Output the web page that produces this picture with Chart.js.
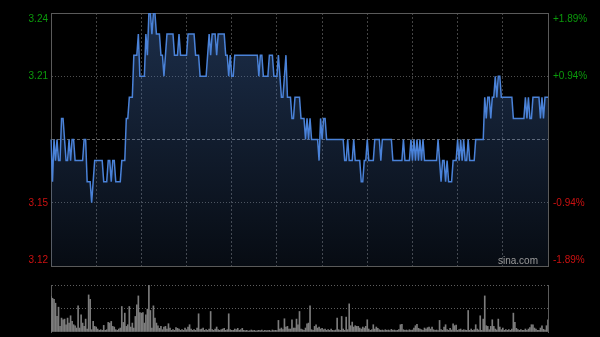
<!DOCTYPE html>
<html><head><meta charset="utf-8">
<script src="https://cdn.jsdelivr.net/npm/chart.js@4.4.1/dist/chart.umd.min.js"></script>
<style>
html,body{margin:0;padding:0;background:#000;}
#wrap{position:relative;width:600px;height:337px;background:#000;overflow:hidden;}
#c1{position:absolute;left:0;top:0;}
#c2{position:absolute;left:0;top:278px;}
#brand{position:absolute;left:498px;top:255px;font:10px "Liberation Sans",Arial,sans-serif;color:#9a9a9a;}
</style></head><body>
<div id="wrap"><canvas id="c1" width="600" height="278"></canvas><canvas id="c2" width="600" height="59"></canvas><div id="brand">sina.com</div></div>
<script>
// ---- data ----
const prevClose = 3.18;
const priceTicks = [3.12, 3.15, 3.18, 3.21, 3.24];
const volTicks = [0, 71, 142];

// minute labels 09:30-12:00, 13:01-16:00
const times = [];
for (let m = 0; m <= 150; m++) { const t = 9*60+30+m; times.push(String(Math.floor(t/60)).padStart(2,'0')+':'+String(t%60).padStart(2,'0')); }
for (let m = 1; m <= 180; m++) { const t = 13*60+m; times.push(String(Math.floor(t/60)).padStart(2,'0')+':'+String(t%60).padStart(2,'0')); }

const prices = [
3.18,3.16,3.18,3.17,3.18,3.17,3.17,3.19,3.19,3.18,
3.17,3.17,3.18,3.17,3.18,3.18,3.17,3.17,3.17,3.17,
3.17,3.17,3.18,3.18,3.16,3.16,3.16,3.15,3.16,3.17,
3.17,3.17,3.17,3.17,3.17,3.16,3.16,3.16,3.17,3.17,
3.16,3.17,3.17,3.16,3.16,3.16,3.16,3.17,3.17,3.17,
3.19,3.19,3.20,3.20,3.20,3.22,3.22,3.22,3.23,3.21,
3.21,3.21,3.21,3.23,3.22,3.24,3.24,3.23,3.24,3.24,
3.23,3.23,3.23,3.22,3.22,3.21,3.22,3.23,3.23,3.23,
3.23,3.23,3.22,3.22,3.22,3.23,3.22,3.22,3.22,3.22,
3.22,3.23,3.23,3.23,3.23,3.23,3.22,3.22,3.22,3.21,
3.21,3.21,3.21,3.21,3.22,3.23,3.22,3.23,3.23,3.23,
3.22,3.23,3.23,3.23,3.23,3.23,3.22,3.22,3.21,3.22,
3.21,3.21,3.22,3.22,3.22,3.22,3.22,3.22,3.22,3.22,
3.22,3.22,3.22,3.22,3.22,3.22,3.22,3.22,3.21,3.22,
3.22,3.21,3.21,3.21,3.21,3.22,3.22,3.22,3.21,3.21,
3.21,3.22,3.21,3.20,3.20,3.21,3.22,3.20,3.20,3.20,
3.19,3.19,3.20,3.20,3.20,3.20,3.19,3.19,3.19,3.18,
3.19,3.18,3.19,3.18,3.18,3.18,3.18,3.18,3.17,3.19,
3.18,3.19,3.19,3.18,3.18,3.18,3.18,3.18,3.18,3.18,
3.18,3.18,3.18,3.18,3.18,3.17,3.17,3.18,3.17,3.17,
3.17,3.18,3.17,3.17,3.17,3.17,3.16,3.16,3.17,3.17,
3.18,3.17,3.17,3.17,3.17,3.18,3.18,3.18,3.18,3.17,
3.18,3.18,3.18,3.18,3.18,3.18,3.18,3.17,3.17,3.17,
3.17,3.17,3.17,3.17,3.18,3.17,3.17,3.17,3.17,3.18,
3.17,3.18,3.17,3.18,3.17,3.18,3.17,3.18,3.17,3.17,
3.17,3.17,3.17,3.17,3.17,3.17,3.17,3.18,3.17,3.16,
3.17,3.17,3.16,3.17,3.16,3.16,3.16,3.17,3.17,3.17,
3.18,3.17,3.18,3.17,3.18,3.17,3.17,3.18,3.17,3.17,
3.17,3.17,3.18,3.18,3.18,3.18,3.18,3.18,3.20,3.19,
3.20,3.20,3.19,3.20,3.20,3.21,3.20,3.21,3.21,3.20,
3.20,3.20,3.20,3.20,3.20,3.20,3.20,3.19,3.19,3.19,
3.19,3.19,3.19,3.19,3.19,3.20,3.19,3.20,3.19,3.19,
3.20,3.20,3.20,3.20,3.20,3.19,3.20,3.19,3.20,3.20,3.20
];

const volumes = [
107,102,99,87,47,75,17,42,37,39,
22,42,27,49,32,22,19,12,79,12,
52,27,17,39,9,112,99,7,32,17,
15,9,5,7,5,20,5,7,29,27,
32,17,15,7,5,9,12,77,29,57,
17,22,77,15,27,12,47,82,109,59,
57,59,27,52,69,142,65,12,79,42,
27,19,11,17,7,15,17,9,25,12,
5,7,5,13,11,9,5,7,5,12,
7,15,22,9,5,7,5,12,55,7,
9,12,5,7,5,9,62,7,5,9,
15,7,5,7,9,11,5,7,55,7,
5,5,9,7,11,5,7,11,5,4,
5,3,4,6,4,5,3,4,5,4,
6,3,5,4,4,5,3,6,4,5,
4,35,9,12,7,40,15,17,9,9,
37,12,12,39,22,62,9,7,5,12,
25,27,79,7,5,17,22,12,15,9,
11,7,9,5,7,5,9,5,4,6,
42,7,5,47,9,5,45,7,85,19,
30,15,19,17,17,12,9,15,12,17,
37,9,5,7,22,9,15,11,7,5,
6,4,7,5,6,4,8,5,6,4,
5,7,22,23,7,5,6,4,7,5,
6,12,19,23,11,9,7,5,12,9,
13,15,9,15,7,5,6,4,35,7,
5,15,22,7,5,11,6,25,19,21,
5,7,9,5,7,6,5,65,5,9,
5,7,22,9,6,49,5,39,109,19,
17,7,17,37,17,9,6,39,15,7,
12,5,7,5,7,5,9,57,29,11,
7,5,7,5,5,9,5,9,13,22,
22,12,9,5,5,12,19,8,6,19,37
];

// ---- helpers ----
const FONT = {family: '"Liberation Sans", Arial, sans-serif', size: 10};
const BORDER = '#5a5a5a';
const NONE = 'rgba(0,0,0,0)';
const cents = v => Math.round(v * 100);
const pc = cents(prevClose);
const tickColor = c => { const v = cents(c.tick.value); return v > pc ? '#0b9a0b' : (v < pc ? '#cc1111' : NONE); };
const edgeLines = (v, s) => { const c = cents(v); if (c === pc) return ''; if (c === cents(priceTicks[priceTicks.length-1])) return ['', s]; if (c === cents(priceTicks[0])) return [s, '']; return s; };
const fixV = w => s => { s.width = w; s.paddingTop = 0; s.paddingBottom = 0; };
const fixH = h => s => { s.height = h; s.paddingLeft = 0; s.paddingRight = 0; };
const common = {responsive: false, animation: false, devicePixelRatio: 1, events: [],
  plugins: {legend: {display: false}, tooltip: {enabled: false}}};

// ---- price chart ----
new Chart(document.getElementById('c1'), {
  type: 'line',
  data: {labels: times, datasets: [{
    data: prices, borderColor: '#4a82d8', borderWidth: 1.5, pointRadius: 0, tension: 0, fill: 'start',
    backgroundColor: ctx => { const ch = ctx.chart, a = ch.chartArea; if (!a) return NONE;
      const g = ch.ctx.createLinearGradient(0, a.top, 0, a.bottom);
      g.addColorStop(0, 'rgba(70,115,185,0.40)'); g.addColorStop(1, 'rgba(70,115,185,0.10)'); return g; }
  }]},
  options: Object.assign({}, common, {
    layout: {padding: 0},
    scales: {
      x: {type: 'category', position: 'bottom', offset: false, afterFit: fixH(12),
        ticks: {display: false, autoSkip: false},
        grid: {offset: false, drawTicks: false, color: c => (c.index % 30 === 0 && c.index > 0 && c.index < times.length-1) ? '#444' : NONE},
        border: {display: true, color: BORDER, dash: [2, 2]}},
      xTop: {type: 'category', position: 'top', afterFit: fixH(13),
        ticks: {display: false}, grid: {display: false, drawTicks: false}, border: {display: true, color: BORDER}},
      y: {type: 'linear', position: 'left', min: priceTicks[0], max: priceTicks[priceTicks.length-1],
        afterFit: fixV(51),
        afterBuildTicks: s => { s.ticks = priceTicks.map(v => ({value: v})); },
        ticks: {font: FONT, padding: 3, color: tickColor, callback: v => edgeLines(v, v.toFixed(2))},
        grid: {drawTicks: false, color: c => { const v = cents(c.tick.value); return v === pc ? '#666' : (v === 315 || v === 321) ? '#4e4e4e' : NONE; }},
        border: {display: true, color: BORDER, dash: c => (c.tick && cents(c.tick.value) === pc) ? [3, 2] : [1, 2]}},
      y2: {type: 'linear', position: 'right', min: priceTicks[0], max: priceTicks[priceTicks.length-1],
        afterFit: fixV(52),
        afterBuildTicks: s => { s.ticks = priceTicks.map(v => ({value: v})); },
        ticks: {font: FONT, padding: 5, color: tickColor, callback: v => {
          const p = (v - prevClose) / prevClose * 100; return edgeLines(v, (p > 0 ? '+' : '') + p.toFixed(2) + '%'); }},
        grid: {display: false, drawTicks: false}, border: {display: true, color: BORDER}}
    }
  })
});

// ---- volume chart ----
new Chart(document.getElementById('c2'), {
  type: 'bar',
  data: {labels: times, datasets: [{data: volumes, backgroundColor: '#7c7c7c', barThickness: 1, borderWidth: 0}]},
  options: Object.assign({}, common, {
    layout: {padding: {top: 7, left: 0, right: 0, bottom: 0}},
    scales: {
      x: {type: 'category', offset: false, afterFit: fixH(5),
        ticks: {display: false}, grid: {display: false, offset: false, drawTicks: false}, border: {display: false}},
      y: {type: 'linear', position: 'left', min: volTicks[0], max: volTicks[volTicks.length-1],
        afterFit: fixV(51),
        afterBuildTicks: s => { s.ticks = volTicks.map(v => ({value: v})); },
        ticks: {display: false},
        grid: {drawTicks: false, color: c => c.tick.value > 0 ? '#5e5e5e' : NONE},
        border: {display: true, color: BORDER, dash: [1, 2]}},
      y2: {type: 'linear', position: 'right', min: volTicks[0], max: volTicks[volTicks.length-1],
        afterFit: fixV(52), ticks: {display: false}, grid: {display: false, drawTicks: false},
        border: {display: true, color: BORDER}}
    }
  })
});
</script>
</body></html>
